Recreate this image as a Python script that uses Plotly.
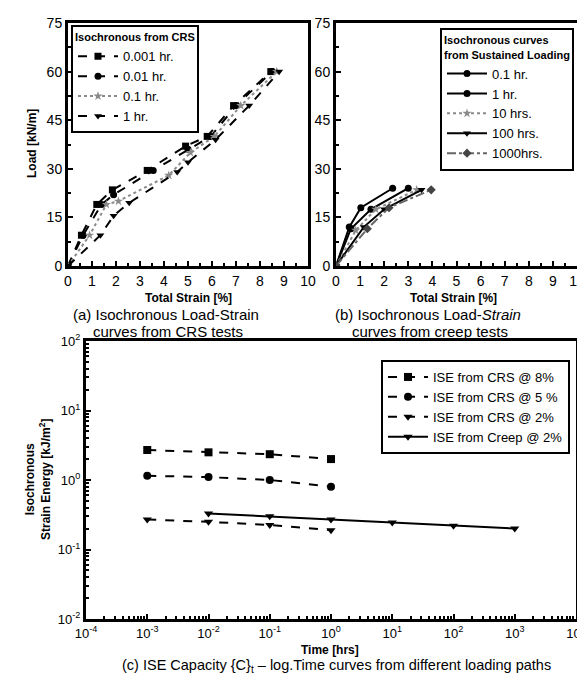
import plotly.graph_objects as go

# ---------------- data ----------------
# Panel (a): isochronous load-strain curves from CRS tests
crs_names = ["0.001 hr.", "0.01 hr.", "0.1 hr.", "1 hr."]
crs_strain = [
    [0, 0.56, 1.2, 1.85, 3.3, 4.9, 5.8, 6.9, 8.45],
    [0, 0.63, 1.4, 1.9, 3.55, 5.0, 5.95, 7.0, 8.5],
    [0, 0.9, 1.6, 2.1, 4.2, 5.1, 6.1, 7.2, 8.7],
    [0, 1.35, 1.9, 2.55, 4.55, 5.0, 6.15, 7.55, 8.8],
]
crs_load = [
    [0, 9.5, 19, 23.5, 29.5, 37, 40, 49.5, 60],
    [0, 9.5, 19, 22, 29.5, 36, 40, 49.5, 60],
    [0, 9.5, 19, 20, 28, 35, 40, 49.5, 60],
    [0, 9.5, 15.5, 19.5, 29, 32, 39, 49.5, 60],
]

# Panel (b): isochronous curves from sustained loading (creep)
creep_names = ["0.1 hr.", "1 hr.", "10 hrs.", "100 hrs.", "1000hrs."]
creep_strain = [
    [0, 0.55, 1.03, 2.35],
    [0, 0.62, 1.45, 3.0],
    [0, 0.82, 1.65, 3.35],
    [0, 1.15, 2.0, 3.55],
    [0, 1.3, 2.2, 3.95],
]
creep_load = [
    [0, 12, 18, 24],
    [0, 11.5, 17.5, 24],
    [0, 11, 17.5, 23.5],
    [0, 12, 17.5, 23.5],
    [0, 11.5, 18, 23.5],
]

# Panel (c): ISE capacity vs time
ise_names = ["ISE from CRS @ 8%", "ISE from CRS @ 5 %", "ISE from CRS @ 2%", "ISE from Creep @ 2%"]
ise_time = [
    [0.001, 0.01, 0.1, 1],
    [0.001, 0.01, 0.1, 1],
    [0.001, 0.01, 0.1, 1],
    [0.01, 0.1, 1, 10, 100, 1000],
]
ise_energy = [
    [2.7, 2.5, 2.35, 2.0],
    [1.15, 1.1, 1.0, 0.8],
    [0.27, 0.25, 0.225, 0.19],
    [0.33, 0.3, 0.27, 0.245, 0.22, 0.2],
]

strain_ticks = list(range(0, 11))
load_ticks = [0, 15, 30, 45, 60, 75]
time_ticks = [1e-4, 1e-3, 1e-2, 1e-1, 1e0, 1e1, 1e2, 1e3, 1e4]
time_labels = ["10<sup>-4</sup>", "10<sup>-3</sup>", "10<sup>-2</sup>", "10<sup>-1</sup>",
               "10<sup>0</sup>", "10<sup>1</sup>", "10<sup>2</sup>", "10<sup>3</sup>", "10<sup>4</sup>"]
energy_ticks = [1e-2, 1e-1, 1e0, 1e1, 1e2]
energy_labels = ["10<sup>-2</sup>", "10<sup>-1</sup>", "10<sup>0</sup>", "10<sup>1</sup>", "10<sup>2</sup>"]

# ---------------- styles ----------------
FONT = "Liberation Sans, Arial, sans-serif"
W, H = 585, 677

crs_style = [
    dict(dash="dash", color="black", symbol="square", mcolor="black"),
    dict(dash="dash", color="black", symbol="circle", mcolor="black"),
    dict(dash="dot", color="#8a8a8a", symbol="star", mcolor="#8a8a8a"),
    dict(dash="dash", color="black", symbol="triangle-down", mcolor="black"),
]
creep_style = [
    dict(dash="solid", color="black", symbol="circle", mcolor="black"),
    dict(dash="solid", color="black", symbol="circle", mcolor="black"),
    dict(dash="dot", color="#8a8a8a", symbol="star", mcolor="#8a8a8a"),
    dict(dash="solid", color="black", symbol="triangle-down", mcolor="black"),
    dict(dash="dashdot", color="#666666", symbol="diamond", mcolor="#444444"),
]
ise_style = [
    dict(dash="dash", symbol="square"),
    dict(dash="dash", symbol="circle"),
    dict(dash="dash", symbol="triangle-down"),
    dict(dash="solid", symbol="triangle-down"),
]

fig = go.Figure()

for name, xs, ys, st in zip(crs_names, crs_strain, crs_load, crs_style):
    fig.add_trace(go.Scatter(
        x=xs, y=ys, name=name, mode="lines+markers", xaxis="x", yaxis="y",
        line=dict(color=st["color"], dash=st["dash"], width=2),
        marker=dict(symbol=st["symbol"], size=7, color=st["mcolor"]),
        legend="legend"))

for name, xs, ys, st in zip(creep_names, creep_strain, creep_load, creep_style):
    fig.add_trace(go.Scatter(
        x=xs, y=ys, name=name, mode="lines+markers", xaxis="x2", yaxis="y2",
        line=dict(color=st["color"], dash=st["dash"], width=2),
        marker=dict(symbol=st["symbol"], size=7, color=st["mcolor"]),
        legend="legend2"))

for name, xs, ys, st in zip(ise_names, ise_time, ise_energy, ise_style):
    fig.add_trace(go.Scatter(
        x=xs, y=ys, name=name, mode="lines+markers", xaxis="x3", yaxis="y3",
        line=dict(color="black", dash=st["dash"], width=2),
        marker=dict(symbol=st["symbol"], size=8, color="black"),
        legend="legend3"))

def px_x(p):
    return p / W

def px_y(p):
    return 1 - p / H

axis_common = dict(showline=True, linewidth=3, linecolor="black", mirror=True,
                   ticks="inside", ticklen=5, tickwidth=2, tickcolor="black",
                   showgrid=False, zeroline=False, automargin=False,
                   tickfont=dict(family=FONT, size=14, color="black"))

lin_x = dict(axis_common, range=[0, 10], tickvals=strain_ticks, ticklabelstandoff=0,
             minor=dict(dtick=0.5, ticks="inside", ticklen=3, tickcolor="black"))
lin_y = dict(axis_common, range=[0, 75], tickvals=load_ticks,
             minor=dict(dtick=7.5, ticks="inside", ticklen=3, tickcolor="black"))

minor_time = [m * 10.0 ** e for e in range(-4, 4) for m in range(2, 10)]
minor_energy = [m * 10.0 ** e for e in range(-2, 2) for m in range(2, 10)]

log_common = dict(axis_common, tickfont=dict(family=FONT, size=13, color="black"))

fig.update_layout(
    width=W, height=H,
    margin=dict(l=0, r=0, t=0, b=0, autoexpand=False),
    paper_bgcolor="white", plot_bgcolor="white",
    font=dict(family=FONT, color="black"),
    xaxis=dict(lin_x, domain=[px_x(60), px_x(300)], anchor="y"),
    yaxis=dict(lin_y, domain=[px_y(258), px_y(15)], anchor="x"),
    xaxis2=dict(lin_x, domain=[px_x(328), px_x(569)], anchor="y2"),
    yaxis2=dict(lin_y, domain=[px_y(258), px_y(15)], anchor="x2"),
    xaxis3=dict(log_common, type="log", range=[-4, 4], tickvals=time_ticks, ticktext=time_labels,
                domain=[px_x(78), px_x(568)], anchor="y3",
                minor=dict(tickvals=minor_time, ticks="inside", ticklen=3, tickcolor="black")),
    yaxis3=dict(log_common, type="log", range=[-2, 2], tickvals=energy_ticks, ticktext=energy_labels,
                domain=[px_y(611), px_y(333)], anchor="x3",
                minor=dict(tickvals=minor_energy, ticks="inside", ticklen=3, tickcolor="black")),
    legend=dict(x=px_x(63), y=px_y(17), xanchor="left", yanchor="top",
                bgcolor="white", bordercolor="black", borderwidth=2,
                font=dict(family=FONT, size=13), tracegroupgap=0, itemwidth=40,
                title=dict(text="<b>Isochronous from CRS</b>", font=dict(family=FONT, size=11))),
    legend2=dict(x=px_x(566), y=px_y(20), xanchor="right", yanchor="top",
                 bgcolor="white", bordercolor="black", borderwidth=2,
                 font=dict(family=FONT, size=13), tracegroupgap=0, itemwidth=40,
                 title=dict(text="<b>Isochronous curves<br>from Sustained Loading</b>",
                            font=dict(family=FONT, size=11))),
    legend3=dict(x=px_x(562), y=px_y(352), xanchor="right", yanchor="top",
                 bgcolor="white", bordercolor="black", borderwidth=2,
                 font=dict(family=FONT, size=13), tracegroupgap=0, itemwidth=40),
)

ann = [
    dict(text="<b>Load [kN/m]</b>", x=px_x(24), y=px_y(136), textangle=-90, size=12),
    dict(text="<b>Total Strain [%]</b>", x=px_x(180), y=px_y(290), size=12),
    dict(text="<b>Total Strain [%]</b>", x=px_x(445), y=px_y(290), size=12),
    dict(text="(a) Isochronous Load-Strain", x=px_x(158), y=px_y(306), size=15),
    dict(text="curves from CRS tests", x=px_x(160), y=px_y(323), size=15),
    dict(text="(b) Isochronous Load-<i>Strain</i>", x=px_x(420), y=px_y(306), size=15),
    dict(text="curves from creep tests", x=px_x(422), y=px_y(323), size=15),
    dict(text="Isochronous<br>Strain Energy [kJ/m<sup>2</sup>]", x=px_x(30), y=px_y(472),
         textangle=-90, size=12, bold=True),
    dict(text="<b>Time [hrs]</b>", x=px_x(322), y=px_y(642), size=12),
    dict(text="(c) ISE Capacity {C}<sub>t</sub> – log.Time curves from different loading paths",
         x=px_x(328), y=px_y(658), size=14.5),
]
for a in ann:
    txt = a["text"]
    if a.get("bold"):
        txt = "<b>" + txt + "</b>"
    fig.add_annotation(text=txt, x=a["x"], y=a["y"], xref="paper", yref="paper",
                       showarrow=False, textangle=a.get("textangle", 0),
                       font=dict(family=FONT, size=a["size"], color="black"),
                       xanchor="center", yanchor="middle")

fig.write_html("out.html")
